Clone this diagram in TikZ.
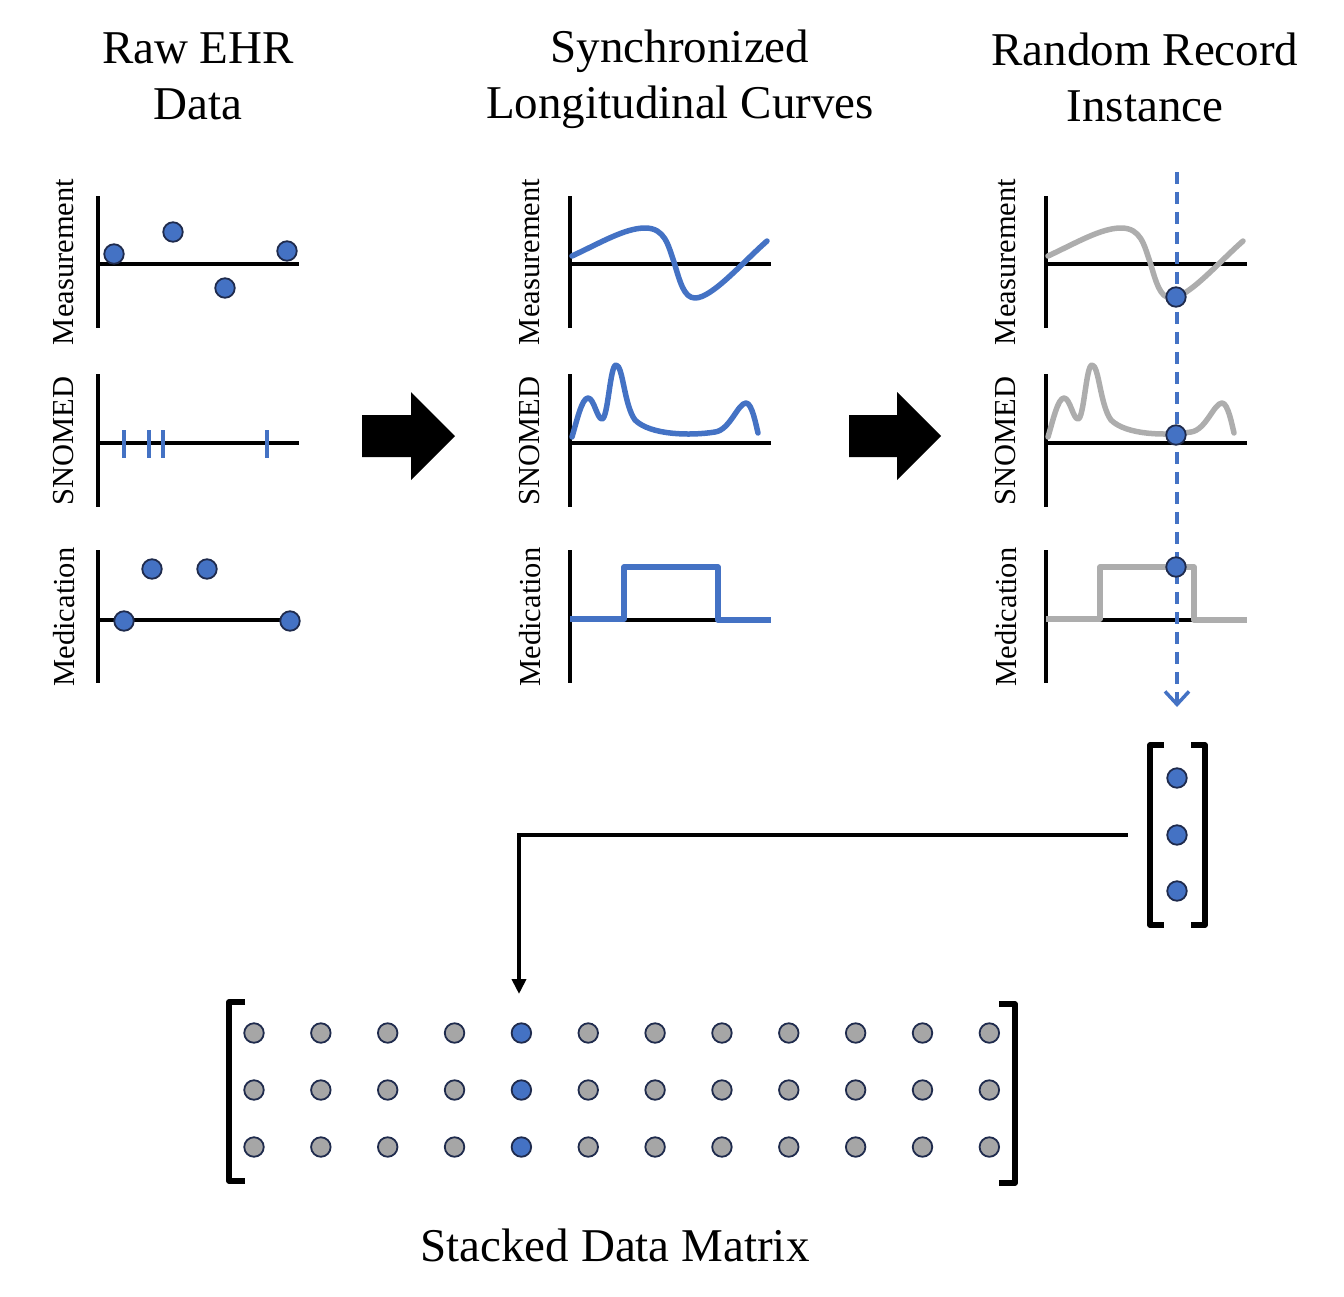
\documentclass[tikz,border=0pt]{standalone}
\usepackage{fontspec}
\setmainfont{Liberation Serif}
\usetikzlibrary{arrows.meta}
\definecolor{ublue}{HTML}{4472C4}
\definecolor{ugray}{HTML}{A6A6A6}
\definecolor{ucurve}{HTML}{ADADAD}
\definecolor{uedge}{HTML}{1F2B4D}
\tikzset{
  title/.style={font=\fontsize{47}{56}\selectfont, align=center, inner sep=0pt},
  lab/.style={font=\fontsize{30.5}{36}\selectfont, rotate=90, inner sep=0pt},
  axline/.style={line width=4.5pt, black},
  bcurve/.style={line width=5.5pt, ublue, line join=round, line cap=round},
  gcurve/.style={line width=5.5pt, ucurve, line join=round, line cap=round},
  tickm/.style={line width=4.5pt, ublue},
  bdot/.style={circle, fill=ublue, draw=uedge, line width=1.8pt, minimum size=19.5pt, inner sep=0pt},
  gdot/.style={circle, fill=ugray, draw=uedge, line width=1.8pt, minimum size=19.5pt, inner sep=0pt},
  brk/.style={line width=5.5pt, black, line join=round},
  conn/.style={line width=4pt, black, -{Triangle[length=15pt,width=14pt]}},
  dashline/.style={line width=3.5pt, ublue, dash pattern=on 12pt off 8pt, -{Straight Barb[length=13pt,width=24pt,line width=3.5pt]}},
  blockarrow/.style={fill=black}
}
\begin{document}
\begin{tikzpicture}[x=1pt,y=-1pt]
\useasboundingbox (0,0) rectangle (1344,1296);

% titles
\node[title] (t1) at (198,76) {Raw EHR\\Data};
\node[title] (t2) at (680,79) {Synchronized\\Longitudinal Curves};
\node[title] (t3) at (1145,77) {Random Record\\Instance};
\node[title] (t4) at (615,1245) {Stacked Data Matrix};

% axis labels and axes
\foreach \px/\lx/\pn in {98/64/a, 570/530/b, 1046/1006/c}{
  \node[lab] (\pn m) at (\lx,262) {Measurement};
  \node[lab] (\pn s) at (\lx,441) {SNOMED};
  \node[lab] (\pn d) at (\lx,617) {Medication};
  \draw[axline] (\px,196) -- (\px,328);
  \draw[axline] (\px,264) -- ++(201,0);
  \draw[axline] (\px,374) -- (\px,507);
  \draw[axline] (\px,443) -- ++(201,0);
  \draw[axline] (\px,550) -- (\px,683);
  \draw[axline] (\px,620) -- ++(201,0);
}

% panel 1: raw data
\node[bdot] (r1) at (114,254) {};
\node[bdot] (r2) at (173,232) {};
\node[bdot] (r3) at (225,288) {};
\node[bdot] (r4) at (287,251) {};
\foreach \tx in {124,149,163,267}{
  \draw[tickm] (\tx,430) -- (\tx,458);
}
\node[bdot] (r5) at (124,621) {};
\node[bdot] (r6) at (152,569) {};
\node[bdot] (r7) at (207,569) {};
\node[bdot] (r8) at (290,621) {};

% panel 2 and 3 curves
\foreach \dx/\sty in {0/bcurve, 476/gcurve}{
  \begin{scope}[xshift=\dx]
  \draw[\sty] (572,256) .. controls (600,243) and (625,228) .. (645,228)
     .. controls (665,228) and (668,245) .. (674,262)
     .. controls (680,282) and (684,298) .. (695,298)
     .. controls (712,298) and (742,263) .. (767,241);
  \draw[\sty] (572,437) .. controls (577,420) and (582,398) .. (588,398)
     .. controls (594,398) and (597,419) .. (602,419)
     .. controls (608,419) and (610,365) .. (616,365)
     .. controls (623,365) and (624,405) .. (635,420)
     .. controls (650,435) and (690,436) .. (715,432)
     .. controls (730,430) and (738,403) .. (746,403)
     .. controls (752,403) and (756,425) .. (758,433);
  \draw[\sty, line cap=butt] (570,619) -- (624,619) -- (624,567) -- (718,567) -- (718,620) -- (771,620);
  \end{scope}
}

% block arrows
\fill[blockarrow] (362,415) -- (411,415) -- (411,392) -- (455,436) -- (411,480) -- (411,457) -- (362,457) -- cycle;
\fill[blockarrow] (849,415) -- (897,415) -- (897,392) -- (941,436) -- (897,480) -- (897,457) -- (849,457) -- cycle;

% dashed sampling line
\coordinate (dtop) at (1177,172);
\coordinate (dbot) at (1177,707);
\draw[dashline] (dtop) -- (dbot);
\node[bdot] (s1) at (1176,297) {};
\node[bdot] (s2) at (1176,435) {};
\node[bdot] (s3) at (1176,567) {};

% vector
\node[minimum width=98pt, minimum height=180pt, inner sep=0pt] (vec) at (1177,835) {};
\draw[brk] (1164,745) -- (1150,745) -- (1150,925) -- (1164,925);
\draw[brk] (1191,745) -- (1205,745) -- (1205,925) -- (1191,925);
\node[bdot] (v1) at (1177,778) {};
\node[bdot] (v2) at (1177,835) {};
\node[bdot] (v3) at (1177,891) {};

% connector to matrix
\coordinate (mtop) at (519,994);
\draw[conn] (vec.west) -| (mtop);

% matrix
\draw[brk] (245,1002) -- (229,1002) -- (229,1181) -- (245,1181);
\draw[brk] (999,1004) -- (1015,1004) -- (1015,1183) -- (999,1183);
\foreach \c in {0,...,11}{
  \foreach \r/\ry in {0/1033, 1/1090, 2/1147}{
    \pgfmathsetmacro{\cx}{254+66.85*\c}
    \ifnum\c=4
      \node[bdot] (m\r\c) at (\cx,\ry) {};
    \else
      \node[gdot] (m\r\c) at (\cx,\ry) {};
    \fi
  }
}
\end{tikzpicture}
\end{document}
